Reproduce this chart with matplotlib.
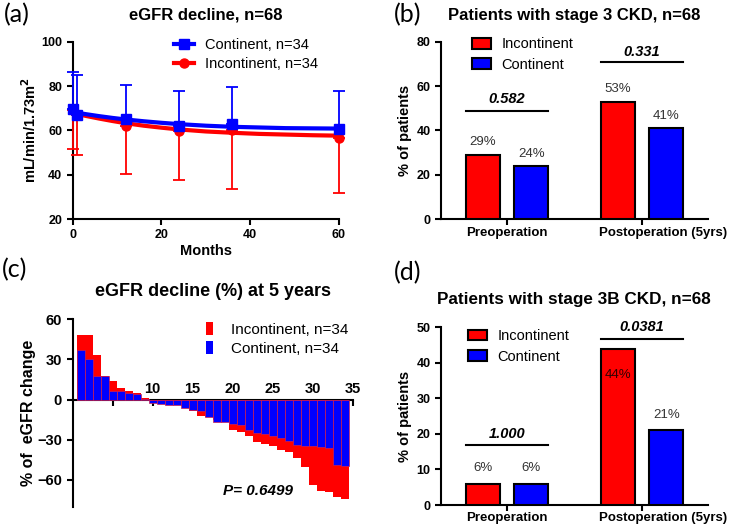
import numpy as np
import matplotlib
matplotlib.use('Agg')
from matplotlib import pyplot as plt
from matplotlib.lines import Line2D
from matplotlib.patches import Patch

matplotlib.rcParams['font.family'] = ['Liberation Sans', 'DejaVu Sans']

RED = '#ff0000'
BLUE = '#0000ff'

# ---- (a) eGFR over time ----
months = [0, 1, 12, 24, 36, 60]
contMean = [69.5, 67.0, 65.0, 61.8, 62.8, 60.5]
contSD = [16.8, 18.0, 15.4, 15.8, 16.8, 17.1]
incontMean = [69.0, 67.0, 62.0, 59.8, 60.0, 56.7]
incontSD = [17.4, 18.1, 21.5, 22.0, 26.5, 25.0]
fitMonths = [0, 3, 6, 9, 12, 16, 20, 24, 30, 36, 42, 48, 54, 60]
contFit = [68.3, 67.3, 66.4, 65.6, 64.9, 64.1, 63.4, 62.8, 62.1, 61.6, 61.3, 61.0, 60.9, 60.8]
incontFit = [67.8, 66.5, 65.3, 64.2, 63.2, 62.1, 61.2, 60.4, 59.5, 58.9, 58.4, 58.1, 57.8, 57.6]

# ---- (c) waterfall, % eGFR change at 5 years ----
incontChange = [48.5, 48.5, 33, 18, 14, 8.7, 6.5, 4.8, 1.2, -1, -2, -2.5, -3, -4.5,
                -8.7, -12.5, -13, -15, -17, -23, -24, -27, -32, -33, -35, -38, -39,
                -43.5, -50, -64, -68, -69, -72.5, -74.5]
contChange = [37, 30, 18, 17.5, 6.7, 6.2, 5, 4.5, 0.7, -2.5, -3, -3.7, -3.7, -6,
              -7.5, -8.7, -13, -17, -17, -18, -19, -22.5, -25, -26, -27.5, -29, -31,
              -34, -34.5, -35, -35.5, -36, -49, -49.5]

# ---- (b), (d) CKD stage bars ----
groups = ['Preoperation', 'Postoperation (5yrs)']
stage3Incont = [29, 53]
stage3Cont = [24, 41]
stage3P = ['0.582', '0.331']
stage3BIncont = [6, 44]
stage3BCont = [6, 21]
stage3BP = ['1.000', '0.0381']

W, H = 729, 528
fig = plt.figure(figsize=(W / 100, H / 100), dpi=100)


def rect(left, top, right, bottom):
    return [left / W, 1 - bottom / H, (right - left) / W, (bottom - top) / H]


def style_axes(ax, labelsize):
    for side in ['top', 'right']:
        ax.spines[side].set_visible(False)
    for side in ['left', 'bottom']:
        ax.spines[side].set_linewidth(1.5)
    ax.tick_params(width=1.5, length=4, labelsize=labelsize, color='black')
    for lab in ax.get_xticklabels() + ax.get_yticklabels():
        lab.set_fontweight('bold')


# ---------------- panel (a) ----------------
axA = fig.add_axes(rect(72.7, 41.7, 339, 219))
axA.plot(fitMonths, incontFit, color=RED, lw=3, zorder=2)
axA.plot(fitMonths, contFit, color=BLUE, lw=3, zorder=2.2)
zeros = np.zeros(len(months))
axA.errorbar(months, incontMean, yerr=[incontSD, zeros], fmt='none', ecolor=RED,
             elinewidth=1.3, capsize=4, capthick=1.3, clip_on=False, zorder=3)
axA.errorbar(months, contMean, yerr=[zeros, contSD], fmt='none', ecolor=BLUE,
             elinewidth=1.3, capsize=4, capthick=1.3, clip_on=False, zorder=3.2)
axA.plot(months, incontMean, 'o', color=RED, ms=6.5, clip_on=False, zorder=4)
axA.plot(months, contMean, 's', color=BLUE, ms=6.5, clip_on=False, zorder=4.2)
axA.set_xlim(0, 60)
axA.set_ylim(20, 100)
axA.set_xticks([0, 20, 40, 60])
axA.set_yticks([20, 40, 60, 80, 100])
style_axes(axA, 9)
axA.set_xlabel('Months', fontsize=10.5, fontweight='bold', labelpad=2)
axA.set_ylabel('mL/min/1.73m$\\mathbf{^2}$', fontsize=10.5, fontweight='bold', labelpad=2)
hA = [Line2D([0], [0], color=BLUE, lw=3, marker='s', ms=6.5),
      Line2D([0], [0], color=RED, lw=3, marker='o', ms=6.5)]
axA.legend(hA, ['Continent, n=34', 'Incontinent, n=34'], loc='upper left',
           bbox_to_anchor=(0.38, 1.02), frameon=False, fontsize=10.5,
           handlelength=1.4, handletextpad=0.7, labelspacing=0.35,
           borderpad=0, borderaxespad=0)


# ---------------- bar panels (b) and (d) ----------------
def bar_panel(ax, incont, cont, pvals, pLineY, pTextY, ymax, ystep, labelOffsets):
    centers = np.arange(len(groups))
    off, width = 0.18, 0.25
    ax.bar(centers - off, incont, width=width, color=RED, edgecolor='black', lw=1.5, zorder=3)
    ax.bar(centers + off, cont, width=width, color=BLUE, edgecolor='black', lw=1.5, zorder=3)
    vals = [incont[0], cont[0], incont[1], cont[1]]
    xs = [centers[0] - off, centers[0] + off, centers[1] - off, centers[1] + off]
    for x, v, dy in zip(xs, vals, labelOffsets):
        col = '#330000' if dy < 0 else '#333333'
        ax.annotate('{}%'.format(v), (x, v), xytext=(0, dy), textcoords='offset points',
                    ha='center', va='center', fontsize=9.5, color=col, zorder=5)
    for c, p, ly, ty in zip(centers, pvals, pLineY, pTextY):
        ax.plot([c - off - width / 2, c + off + width / 2], [ly, ly], color='black',
                lw=1.5, clip_on=False)
        ax.text(c, ty, p, ha='center', va='center', fontsize=10.5,
                fontweight='bold', fontstyle='italic')
    ax.set_xlim(-0.49, 1.49)
    ax.set_ylim(0, ymax)
    ax.set_yticks(np.arange(0, ymax + 1, ystep))
    ax.set_xticks(centers)
    ax.set_xticklabels(['', ''])
    style_axes(ax, 9)
    for x, g in zip([0, 1.16], groups):
        ax.text(x, -0.075, g, transform=ax.get_xaxis_transform(), ha='center',
                va='center', fontsize=9.5, fontweight='bold', clip_on=False)
    ax.set_ylabel('% of patients', fontsize=10.5, fontweight='bold', labelpad=3)


axB = fig.add_axes(rect(441, 41.7, 708, 219.3))
bar_panel(axB, stage3Incont, stage3Cont, stage3P, [48.9, 70.7], [54, 75.5], 80, 20,
          [9, 9, 9, 9])
hB = [Patch(fc=RED, ec='black', lw=1.5), Patch(fc=BLUE, ec='black', lw=1.5)]
axB.legend(hB, ['Incontinent', 'Continent'], loc='upper left',
           bbox_to_anchor=(0.115, 1.025), frameon=False, fontsize=10.5,
           handlelength=1.35, handleheight=0.75, handletextpad=0.7,
           labelspacing=0.45, borderpad=0, borderaxespad=0)

axD = fig.add_axes(rect(441, 327.3, 708, 505))
bar_panel(axD, stage3BIncont, stage3BCont, stage3BP, [16.8, 46.7], [20, 50], 50, 10,
          [11, 11, -19, 11])
axD.legend(hB, ['Incontinent', 'Continent'], loc='upper left',
           bbox_to_anchor=(0.1, 0.99), frameon=False, fontsize=10.5,
           handlelength=1.35, handleheight=0.75, handletextpad=0.7,
           labelspacing=0.45, borderpad=0, borderaxespad=0)

# ---------------- panel (c) ----------------
axC = fig.add_axes(rect(72.5, 319.3, 352.7, 506.7))
pos = np.arange(1, len(incontChange) + 1)
axC.bar(pos, incontChange, width=1, color=RED, edgecolor='none', zorder=3)
axC.bar(pos, contChange, width=1, color=BLUE, edgecolor='#d02050', lw=0.5, zorder=4)
axC.set_xlim(0, 35)
axC.set_ylim(-80, 60)
axC.set_xticks([5, 10, 15, 20, 25, 30, 35])
axC.set_yticks([-60, -30, 0, 30, 60])
axC.spines['bottom'].set_position(('data', 0))
style_axes(axC, 10.5)
axC.tick_params(axis='x', pad=-17)
axC.set_ylabel('% of  eGFR change', fontsize=11.5, fontweight='bold', labelpad=1)
axC.text(23.2, -68, 'P= 0.6499', ha='center', va='center', fontsize=11,
         fontweight='bold', fontstyle='italic')
hC = [Patch(fc=RED, ec='none'), Patch(fc=BLUE, ec='none')]
axC.legend(hC, ['Incontinent, n=34', 'Continent, n=34'], loc='upper left',
           bbox_to_anchor=(0.476, 0.985), frameon=False, fontsize=11,
           handlelength=0.46, handleheight=0.92, handletextpad=1.2,
           labelspacing=0.3, borderpad=0, borderaxespad=0)

# ---------------- titles and panel letters ----------------
titles = [('eGFR decline, n=68', 206, 15, 12), ('Patients with stage 3 CKD, n=68', 574, 15.5, 12),
          ('eGFR decline (%) at 5 years', 213, 292, 13), ('Patients with stage 3B CKD, n=68', 574, 299.3, 12.3)]
for txt, x, y, fs in titles:
    fig.text(x / W, 1 - y / H, txt, ha='center', va='center', fontsize=fs, fontweight='bold')
letters = [('(a)', 17, 15), ('(b)', 408, 14.5), ('(c)', 15, 270), ('(d)', 408, 273)]
for txt, x, y in letters:
    fig.text(x / W, 1 - y / H, txt, ha='center', va='center', fontsize=18, family='Lato')

fig.savefig('out.png', dpi=100)
